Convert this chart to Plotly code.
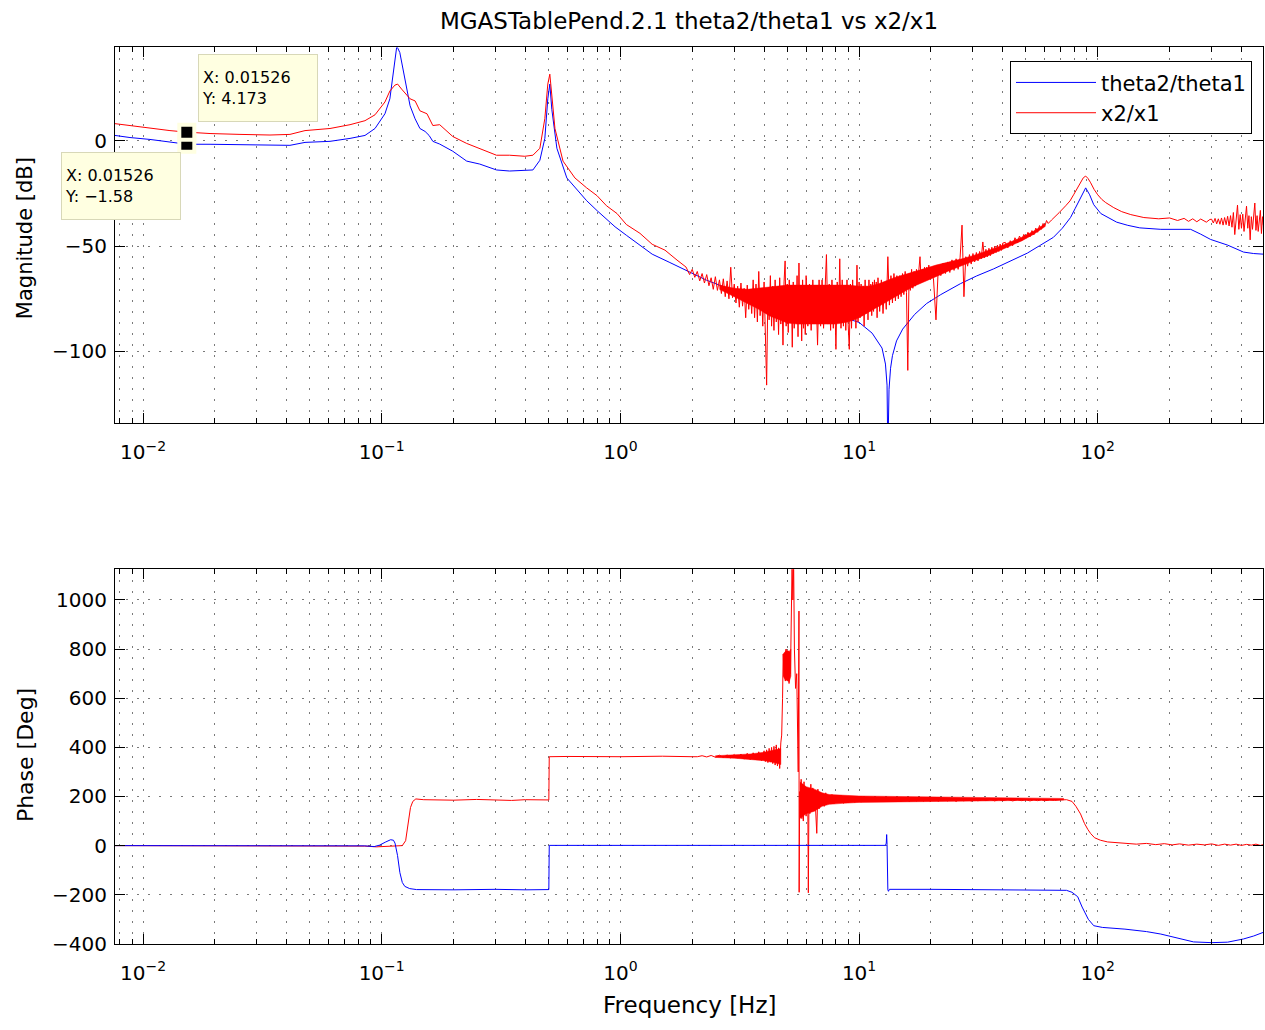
import math
import plotly.graph_objects as go

# ---------------- data ----------------
title_text = "MGASTablePend.2.1 theta2/theta1 vs x2/x1"
series_names = ["theta2/theta1", "x2/x1"]

decade_vals = [0.01, 0.1, 1, 10, 100]
decade_text = ["10<sup>−2</sup>", "10<sup>−1</sup>", "10<sup>0</sup>", "10<sup>1</sup>", "10<sup>2</sup>"]
mag_tick_vals = [-100, -50, 0]
phase_tick_vals = [-400, -200, 0, 200, 400, 600, 800, 1000]

# theta2/theta1 magnitude [dB]
theta_mag_freq = [0.00763, 0.00882, 0.0107, 0.01297, 0.01526, 0.01909, 0.02549, 0.03404, 0.04127, 0.04772,
                  0.06074, 0.07368, 0.08511, 0.09375, 0.1032, 0.1082, 0.1124, 0.1157, 0.1191, 0.1252,
                  0.1315, 0.138, 0.1446, 0.152, 0.158, 0.1638, 0.175, 0.1985, 0.2271, 0.2575,
                  0.3026, 0.3434, 0.39, 0.4301, 0.4599, 0.4825, 0.4965, 0.5063, 0.5161, 0.542,
                  0.5966, 0.65, 0.7223, 0.8, 0.8746, 0.95, 1.059, 1.2, 1.359, 1.6,
                  1.883, 2.3, 2.925, 3.4, 4.05, 4.7, 5.58, 6.5, 7.69, 8.8,
                  10.0, 11.34, 12.48, 12.9, 13.1, 13.2, 13.35, 13.55, 13.8, 14.35,
                  15.23, 17.1, 19.2, 22.0, 26.6, 31.0, 36.6, 43.0, 50.7, 57.0,
                  65.2, 71.0, 76.9, 80.5, 84.7, 89.0, 92.5, 96.2, 103.0, 110.0,
                  120.0, 133.6, 150.0, 183.7, 215.0, 245.0, 270.0, 297.0, 350.0, 408.0,
                  450.0, 494.0]
theta_mag_db = [2.6, 1.6, 0.7, -0.7, -1.58, -1.6, -1.9, -2.1, -2.1, -0.7,
                -0.2, 1.2, 2.6, 5.9, 12.9, 20.0, 34.0, 45.0, 42.0, 29.0,
                16.7, 10.5, 5.9, 4.5, 2.6, -0.2, -1.5, -4.9, -9.6, -11.0,
                -13.8, -14.3, -13.9, -13.8, -9.2, 1.2, 20.0, 27.0, 15.0, -3.5,
                -17.6, -22.5, -28.4, -33.2, -37.3, -40.8, -44.8, -49.4, -53.8, -57.6,
                -61.3, -66.2, -70.7, -73.2, -75.4, -76.7, -77.7, -79.8, -82.0, -84.2,
                -86.2, -91.3, -98.4, -106.0, -116.0, -150.0, -118.0, -108.0, -102.0, -95.0,
                -89.4, -82.4, -77.2, -73.0, -67.8, -64.2, -60.8, -57.0, -53.3, -49.8,
                -45.8, -41.5, -36.4, -32.0, -27.0, -22.3, -25.6, -30.3, -34.5, -36.4,
                -38.6, -40.1, -41.3, -42.0, -42.0, -42.0, -44.3, -46.8, -49.5, -52.8,
                -53.5, -53.8]

# x2/x1 magnitude [dB], low-frequency part
x_mag_freq_low = [0.00763, 0.00882, 0.0107, 0.01297, 0.01526, 0.01909, 0.02549, 0.03404, 0.04127, 0.04772,
                  0.06074, 0.07368, 0.08511, 0.09375, 0.1032, 0.1082, 0.1136, 0.1166, 0.1212, 0.1315,
                  0.138, 0.1446, 0.1548, 0.1638, 0.175, 0.1985, 0.2271, 0.2575, 0.3026, 0.3434,
                  0.398, 0.4301, 0.4599, 0.4825, 0.4965, 0.5063, 0.5161, 0.532, 0.575, 0.645,
                  0.7223, 0.798, 0.8746, 0.968, 1.059, 1.208, 1.359, 1.538, 1.727, 1.883]
x_mag_db_low = [8.2, 7.3, 5.9, 4.9, 4.173, 3.5, 3.1, 2.8, 3.1, 4.9,
                5.9, 7.7, 9.6, 12.4, 18.5, 23.7, 26.5, 27.0, 24.6, 20.0,
                19.0, 14.3, 12.9, 7.3, 7.7, 2.1, -1.2, -3.5, -6.8, -6.8,
                -7.3, -6.8, -3.5, 10.6, 27.0, 31.7, 20.0, 5.9, -9.6, -17.6,
                -22.3, -26.0, -30.8, -34.5, -39.7, -43.9, -49.1, -51.9, -56.6, -59.9]

# x2/x1 magnitude, noisy band 1.9 - 3.5 Hz
x_mag_freq_n1 = [1.90, 1.95, 2.00, 2.05, 2.10, 2.15, 2.20, 2.25, 2.30, 2.35, 2.40, 2.45, 2.50, 2.55, 2.60, 2.65,
                 2.70, 2.75, 2.80, 2.85, 2.90, 2.95, 3.00, 3.05, 3.10, 3.15, 3.20, 3.25, 3.30, 3.35, 3.40, 3.45, 3.50]
x_mag_db_n1 = [-60.8, -63.5, -61.0, -64.8, -62.0, -66.5, -63.0, -67.5, -63.5, -68.8, -65.0, -70.5, -64.5, -71.0,
               -66.0, -72.5, -65.5, -74.0, -66.5, -75.0, -60.0, -74.5, -68.0, -77.0, -69.0, -79.0, -67.5, -78.5,
               -70.0, -84.0, -68.5, -80.0, -70.5]

# noisy band 3.55 - 6.0 Hz
x_mag_freq_n2 = [3.55, 3.60, 3.65, 3.70, 3.75, 3.80, 3.85, 3.90, 3.95, 4.00,
                 4.05, 4.10, 4.15, 4.20, 4.25, 4.30, 4.35, 4.40, 4.45, 4.50,
                 4.55, 4.60, 4.65, 4.70, 4.75, 4.80, 4.85, 4.90, 4.95, 5.00,
                 5.05, 5.10, 5.15, 5.20, 5.25, 5.30, 5.35, 5.40, 5.45, 5.50,
                 5.55, 5.60, 5.65, 5.70, 5.75, 5.80, 5.85, 5.90, 5.95, 6.00]
x_mag_db_n2 = [-82, -66, -84, -68, -86, -62, -83, -70, -88, -67,
               -95, -116, -72, -85, -64, -88, -69, -90, -66, -86,
               -71, -92, -65, -87, -70, -97, -67, -57, -88, -68,
               -91, -66, -86, -70, -98, -67, -89, -71, -84, -64,
               -93, -58, -87, -70, -95, -66, -89, -69, -92, -64]

# noisy band 6.1 - 12 Hz
x_mag_freq_n3 = [6.1, 6.2, 6.3, 6.4, 6.5, 6.6, 6.7, 6.8, 6.9, 7.0,
                 7.1, 7.2, 7.3, 7.4, 7.5, 7.6, 7.7, 7.8, 7.9, 8.0,
                 8.1, 8.2, 8.3, 8.4, 8.5, 8.6, 8.7, 8.8, 8.9, 9.0,
                 9.1, 9.2, 9.3, 9.4, 9.5, 9.6, 9.7, 9.8, 9.9, 10.0,
                 10.1, 10.2, 10.3, 10.4, 10.5, 10.6, 10.7, 10.8, 10.9, 11.0,
                 11.1, 11.2, 11.3, 11.4, 11.5, 11.6, 11.7, 11.8, 11.9, 12.0]
x_mag_db_n3 = [-88, -68, -90, -66, -86, -70, -97, -66, -88, -66,
               -89, -69, -54, -87, -68, -90, -66, -89, -71, -99,
               -67, -86, -56, -89, -66, -88, -70, -90, -66, -87,
               -99, -68, -89, -66, -85, -69, -89, -59, -86, -67,
               -84, -68, -83, -69, -88, -66, -82, -69, -85, -66,
               -81, -68, -83, -67, -81, -66, -79, -67, -84, -65]

# noisy band 12.2 - 20 Hz
x_mag_freq_n4 = [12.2, 12.4, 12.6, 12.8, 13.0, 13.2, 13.4, 13.6, 13.8, 14.0,
                 14.2, 14.4, 14.6, 14.8, 15.0, 15.2, 15.4, 15.6, 15.8, 16.0,
                 16.2, 16.4, 16.6, 16.8, 17.0, 17.2, 17.4, 17.6, 17.8, 18.0,
                 18.2, 18.4, 18.6, 18.8, 19.0, 19.2, 19.4, 19.6, 19.8, 20.0]
x_mag_db_n4 = [-81, -66, -82, -67, -80, -55, -78, -64, -77, -63,
               -76, -64, -75, -64, -74, -63, -73, -62, -72, -109,
               -63, -71, -61, -70, -62, -69, -61, -68, -60, -55,
               -67, -61, -67, -60, -66, -60, -66, -59, -65, -60]

# noisy band 20.5 - 40 Hz
x_mag_freq_n5 = [20.5, 21.0, 21.5, 22.0, 22.5, 23.0, 23.5, 24.0, 24.5, 25.0,
                 25.5, 26.0, 26.5, 27.0, 27.5, 28.0, 28.5, 29.0, 29.5, 30.0,
                 30.5, 31.0, 31.5, 32.0, 32.5, 33.0, 33.5, 34.0, 34.5, 35.0,
                 35.5, 36.0, 36.5, 37.0, 37.5, 38.0, 38.5, 39.0, 39.5, 40.0]
x_mag_db_n5 = [-65.5, -85, -59, -64, -58, -63, -57.5, -62.5, -56.5, -61.5,
               -56, -61, -55.5, -40, -74, -55, -59.5, -54, -58.5, -53.5,
               -57.5, -53, -57, -52.5, -56, -48, -55.5, -51.5, -55, -51,
               -54.5, -50.5, -53.5, -50, -53, -49.5, -52.5, -49, -52, -48.5]

# noisy band 41 - 62 Hz
x_mag_freq_n6 = [41, 42, 43, 44, 45, 46, 47, 48, 49, 50, 51, 52, 53, 54, 55, 56, 57, 58, 59, 60, 61, 62]
x_mag_db_n6 = [-48.2, -50.8, -47.4, -49.8, -46.0, -48.4, -45.2, -47.4, -44.4, -46.2, -43.4,
               -45.6, -42.6, -44.6, -41.4, -43.4, -40.2, -42.0, -39.2, -40.6, -37.8, -39.2]

# resonance region 64 - 295 Hz
x_mag_freq_hi = [64, 65.2, 69, 73.4, 76.5, 79.2, 82, 84.7, 87, 89,
                 91, 93.4, 96.5, 100, 104, 108, 116.7, 126, 137.5, 156,
                 180, 200, 216, 230, 240, 250, 260, 270, 285, 295]
x_mag_db_hi = [-37.6, -36.6, -34, -30.8, -28.5, -25.6, -22.5, -19.9, -17.5, -16.7,
               -17.8, -19.9, -23, -25.6, -27.8, -29.3, -31.7, -33.6, -35, -36.4,
               -37, -36.6, -37.8, -36.8, -38.2, -37.0, -38.4, -37.1, -38.6, -37.3]

# noisy tail 300 - 494 Hz
x_mag_freq_n7 = [300, 305, 310, 315, 320, 325, 330, 335, 340, 345,
                 350, 355, 360, 365, 370, 375, 380, 385, 390, 395,
                 400, 405, 410, 415, 420, 425, 430, 435, 440, 445,
                 450, 455, 460, 465, 470, 475, 480, 485, 490, 494]
x_mag_db_n7 = [-37.2, -39.0, -36.8, -39.4, -37.0, -39.6, -36.6, -40.0, -36.4, -39.8,
               -35.8, -40.4, -35.5, -41.0, -34.0, -44.5, -35.2, -30.5, -42.0, -35.0,
               -41.5, -34.8, -43.0, -36.0, -31.0, -41.5, -35.5, -47.0, -36.0, -42.0,
               -34.5, -29.5, -42.5, -35.5, -43.0, -36.5, -33.0, -44.0, -36.0, -40.0]

# dense core of the x2/x1 magnitude noise (upper / lower edge)
x_mag_band_freq = [2.6, 3.0, 3.4, 3.8, 4.2, 4.6, 5.0, 5.5, 6.0, 7.0,
                   8.0, 9.0, 10.0, 11.0, 12.0, 13.0, 14.0, 15.5, 17.0, 19.0,
                   21.0, 24.0, 27.0, 30.0, 34.0, 38.0, 43.0, 48.0, 54.0, 60.0]
x_mag_band_upper = [-68.5, -70, -70.5, -70, -69.5, -69, -68.5, -68.5, -68.5, -68.5,
                    -68.5, -68.5, -69, -69, -68, -66.5, -65, -63.5, -62, -60.5,
                    -59, -57.5, -56, -54.5, -52.5, -50.5, -48, -45.8, -42.8, -39.5]
x_mag_band_lower = [-70.5, -74, -77, -80, -83, -85, -86.5, -87, -87, -87,
                    -87, -86, -84, -81.5, -79, -76.5, -74.5, -71.5, -69, -66.5,
                    -64.5, -61.5, -59.2, -57.2, -55, -52.8, -50, -47.5, -44.3, -40.8]

# theta2/theta1 phase [deg]
theta_phase_freq = [0.00763, 0.03, 0.06, 0.085, 0.093, 0.098, 0.104, 0.109, 0.112, 0.1137,
                    0.1165, 0.1192, 0.122, 0.125, 0.131, 0.14, 0.2, 0.3, 0.4, 0.5015,
                    0.5035, 1.0, 3.0, 6.0, 10.0, 12.9, 13.0, 13.05, 13.1, 13.15,
                    13.2, 13.28, 13.4, 20.0, 30.0, 45.0, 60.0, 74.0, 78.0, 82.4,
                    86.0, 89.0, 91.3, 96.2, 104.5, 130.0, 160.0, 183.7, 223.0, 252.0,
                    300.0, 350.0, 408.0, 450.0, 494.0]
theta_phase_deg = [0, 1, -1, -1, -4, 2, 15, 24, 22, 10,
                   -40, -110, -150, -166, -175, -179, -180, -178, -180, -179,
                   1, 1, 0, 1, 0, 1, 10, 45, 5, -120,
                   -180, -186, -178, -178, -179, -178, -179, -182, -190, -208,
                   -250, -280, -300, -326, -333, -340, -350, -360, -380, -392,
                   -395, -393, -380, -368, -353]

# x2/x1 phase [deg]
x_phase_freq_low = [0.00763, 0.03, 0.06, 0.085, 0.095, 0.105, 0.115, 0.122, 0.126, 0.129,
                    0.132, 0.135, 0.139, 0.15, 0.2, 0.25, 0.3, 0.35, 0.4, 0.45,
                    0.5015, 0.5035, 0.6, 1.0, 1.5, 2.0]
x_phase_deg_low = [0, -1, 1, -2, -5, -3, -2, 0, 20, 90,
                   155, 180, 190, 187, 185, 188, 186, 184, 187, 185,
                   186, 362, 363, 362, 364, 362]

x_phase_freq_mid = [2.1, 2.2, 2.3, 2.4, 2.5, 2.6, 2.7, 2.8, 2.9, 3.0,
                    3.1, 3.2, 3.3, 3.4, 3.5, 3.6, 3.7, 3.8, 3.9, 4.0,
                    4.05, 4.1, 4.15, 4.2, 4.25, 4.3, 4.35, 4.4, 4.45, 4.5,
                    4.55, 4.6, 4.65, 4.70, 4.74, 4.78, 4.81, 4.85, 4.88, 4.91,
                    4.94, 4.97, 5.00, 5.03, 5.06, 5.09, 5.12, 5.16, 5.20, 5.24,
                    5.28, 5.32, 5.36, 5.42, 5.48, 5.52, 5.56, 5.60, 5.61, 5.64,
                    5.68, 5.72, 5.76, 5.80, 5.84, 5.88, 5.92, 5.96, 6.00, 6.05,
                    6.10, 6.13, 6.17, 6.22, 6.28, 6.34, 6.40, 6.46, 6.52, 6.58,
                    6.65, 6.72, 6.80, 6.88, 6.96, 7.05, 7.15, 7.25, 7.35, 7.45,
                    7.55, 7.7, 7.85, 8.0, 8.2, 8.4, 8.6, 8.8, 9.0, 9.3,
                    9.6, 9.9, 10.2, 10.5, 10.9, 11.3, 11.7, 12.1]
x_phase_deg_mid = [362, 366, 361, 367, 360, 368, 359, 369, 357, 371,
                   356, 373, 352, 376, 350, 378, 352, 382, 346, 386,
                   342, 390, 338, 396, 340, 400, 334, 404, 328, 410,
                   324, 398, 314, 418, 450, 600, 780, 690, 760, 670,
                   800, 700, 780, 680, 790, 660, 760, 700, 900, 1150,
                   1000, 1150, 800, 640, 700, 500, 300, 955, -190, 220,
                   120, 270, 110, 250, 100, 260, 140, 240, 120, 230,
                   150, -192, 220, 130, 250, 140, 235, 150, 220, 160,
                   50, 230, 150, 215, 165, 210, 160, 215, 170, 205,
                   172, 208, 170, 200, 175, 205, 172, 200, 178, 198,
                   176, 197, 177, 196, 178, 195, 180, 194]

x_phase_freq_hi = [12.6, 13.2, 13.8, 14.4, 15.0, 15.6, 16.2, 16.8, 17.4, 18.0,
                   18.6, 19.2, 19.8, 20.5, 21.5, 22.5, 23.5, 24.5, 25.5, 26.5,
                   27.5, 28.5, 29.5, 30.5, 31.5, 32.5, 34, 35.5, 37, 38.5,
                   40, 42, 44, 46, 48, 50, 52, 54, 56, 58,
                   60, 63, 66, 70, 74, 78, 81, 84.7, 88, 91,
                   93.4, 97, 102.6, 110, 120, 133, 145, 160, 175, 190,
                   205, 220, 240, 260, 280, 300, 320, 340, 360, 380,
                   400, 420, 440, 460, 480, 494]
x_phase_deg_hi = [182, 195, 180, 194, 181, 195, 179, 193, 182, 194,
                  181, 193, 180, 192, 181, 192, 182, 191, 180, 190,
                  182, 191, 181, 189, 182, 190, 183, 189, 182, 188,
                  183, 188, 182, 187, 183, 187, 182, 186, 183, 186,
                  183, 185, 184, 186, 187, 180, 160, 129, 90, 65,
                  49, 32, 22, 15, 12, 10, 6, 9, 4, 8,
                  3, 7, 2, 6, 3, 7, 1, 6, 2, 6,
                  1, 5, 2, 6, 1, 4]

# dense cores of the x2/x1 phase noise (upper / lower edge)
x_phase_band1_freq = [2.5, 3.0, 3.5, 4.0, 4.4, 4.7]
x_phase_band1_upper = [366, 369, 373, 380, 388, 395]
x_phase_band1_lower = [359, 356, 352, 346, 338, 330]
x_phase_band2_freq = [4.81, 4.9, 5.0, 5.1, 5.18]
x_phase_band2_upper = [780, 790, 795, 790, 800]
x_phase_band2_lower = [690, 675, 672, 668, 690]
x_phase_band3_freq = [5.65, 6.0, 6.5, 7.0, 7.5, 8.5, 10.0, 12.0, 15.0, 20.0, 30.0, 45.0, 60.0, 72.0]
x_phase_band3_upper = [260, 240, 230, 215, 208, 205, 202, 201, 200, 199, 198, 196, 194, 192]
x_phase_band3_lower = [110, 130, 140, 160, 168, 172, 176, 178, 179, 180, 181, 183, 185, 186]

# data tips shown in the reference
tip_freq = 0.01526
tip_theta_db = -1.58
tip_x_db = 4.173

# ---------------- assemble ----------------
x_mag_freq = (x_mag_freq_low + x_mag_freq_n1 + x_mag_freq_n2 + x_mag_freq_n3 + x_mag_freq_n4
              + x_mag_freq_n5 + x_mag_freq_n6 + x_mag_freq_hi + x_mag_freq_n7)
x_mag_db = (x_mag_db_low + x_mag_db_n1 + x_mag_db_n2 + x_mag_db_n3 + x_mag_db_n4
            + x_mag_db_n5 + x_mag_db_n6 + x_mag_db_hi + x_mag_db_n7)
x_phase_freq = x_phase_freq_low + x_phase_freq_mid + x_phase_freq_hi
x_phase_deg = x_phase_deg_low + x_phase_deg_mid + x_phase_deg_hi

W, H = 1265, 1030
BLUE = "rgb(0,0,255)"
RED = "rgb(255,0,0)"
FONT = "DejaVu Sans"
GRID = "#7a7a7a"
GRID_DASH = "2px,9px"

minor_vals = [m * 10 ** e for e in range(-3, 3) for m in range(2, 10)]


def band_trace(freq, upper, lower, xa, ya):
    return go.Scatter(x=list(freq) + list(reversed(freq)), y=list(upper) + list(reversed(lower)),
                      mode="lines", fill="toself", fillcolor=RED, line=dict(color=RED, width=0.5),
                      xaxis=xa, yaxis=ya, showlegend=False, hoverinfo="skip")


fig = go.Figure()
fig.add_trace(go.Scatter(x=theta_mag_freq, y=theta_mag_db, mode="lines", name=series_names[0],
                         line=dict(color=BLUE, width=1), xaxis="x", yaxis="y"))
fig.add_trace(go.Scatter(x=x_mag_freq, y=x_mag_db, mode="lines", name=series_names[1],
                         line=dict(color=RED, width=1), xaxis="x", yaxis="y"))
fig.add_trace(band_trace(x_mag_band_freq, x_mag_band_upper, x_mag_band_lower, "x", "y"))
fig.add_trace(band_trace(x_phase_band1_freq, x_phase_band1_upper, x_phase_band1_lower, "x2", "y2"))
fig.add_trace(band_trace(x_phase_band2_freq, x_phase_band2_upper, x_phase_band2_lower, "x2", "y2"))
fig.add_trace(band_trace(x_phase_band3_freq, x_phase_band3_upper, x_phase_band3_lower, "x2", "y2"))
fig.add_trace(go.Scatter(x=x_phase_freq, y=x_phase_deg, mode="lines", name=series_names[1],
                         line=dict(color=RED, width=1), xaxis="x2", yaxis="y2", showlegend=False))
fig.add_trace(go.Scatter(x=theta_phase_freq, y=theta_phase_deg, mode="lines", name=series_names[0],
                         line=dict(color=BLUE, width=1), xaxis="x2", yaxis="y2", showlegend=False))
fig.add_trace(go.Scatter(x=[tip_freq, tip_freq], y=[tip_theta_db, tip_x_db], mode="markers",
                         marker=dict(symbol="square", size=15, color="black",
                                     line=dict(color="#FFFFE1", width=4)),
                         xaxis="x", yaxis="y", showlegend=False, hoverinfo="skip"))


def x_axis(anchor):
    return dict(type="log", range=[-2.1173, 2.6923], anchor=anchor, domain=[0, 1],
                tickmode="array", tickvals=decade_vals, ticktext=decade_text,
                ticks="inside", ticklen=10, tickwidth=1, tickcolor="black", ticklabelstandoff=11,
                showline=True, linecolor="black", linewidth=1, mirror="ticks",
                showgrid=True, gridcolor=GRID, gridwidth=1, griddash=GRID_DASH, zeroline=False,
                minor=dict(tickmode="array", tickvals=minor_vals, ticks="inside", ticklen=5,
                           tickcolor="black", showgrid=True, gridcolor=GRID, griddash=GRID_DASH),
                tickfont=dict(family=FONT, size=20, color="black"))


def y_axis(anchor, top_px, bottom_px, rng, vals):
    return dict(anchor=anchor, domain=[1 - bottom_px / H, 1 - top_px / H], range=rng,
                tickmode="array", tickvals=vals,
                ticks="inside", ticklen=10, tickwidth=1, tickcolor="black", ticklabelstandoff=3,
                showline=True, linecolor="black", linewidth=1, mirror="ticks",
                showgrid=True, gridcolor=GRID, gridwidth=1, griddash=GRID_DASH, zeroline=False,
                tickfont=dict(family=FONT, size=20, color="black"))


tip_box = dict(xref="x", yref="y", x=math.log10(tip_freq), showarrow=False, align="left",
               bgcolor="#FFFFE1", bordercolor="#D8D8B8", borderwidth=1, borderpad=3,
               width=112, height=60, font=dict(family=FONT, size=16, color="black"))

fig.update_layout(
    width=W, height=H, autosize=False,
    margin=dict(l=115, r=2, t=0, b=0),
    paper_bgcolor="white", plot_bgcolor="white",
    font=dict(family=FONT, color="black"),
    title=dict(text=title_text, x=0.5, xref="paper", xanchor="center",
               y=1 - 21 / H, yref="container", yanchor="middle",
               font=dict(family=FONT, size=23, color="black")),
    xaxis=x_axis("y"),
    yaxis=y_axis("x", 48, 428, [-134.0, 44.4], mag_tick_vals),
    xaxis2=x_axis("y2"),
    yaxis2=y_axis("x2", 576, 955, [-400, 1125], phase_tick_vals),
    legend=dict(x=(1252 - 115) / 1148, y=1 - 62 / H, xanchor="right", yanchor="top",
                bgcolor="white", bordercolor="black", borderwidth=1, itemwidth=80,
                font=dict(family=FONT, size=21, color="black")),
    annotations=[
        dict(tip_box, y=tip_x_db, xshift=70.7, yshift=44.6,
             text=f"X: {tip_freq}<br>Y: {tip_x_db}"),
        dict(tip_box, y=tip_theta_db, xshift=-65.8, yshift=-41.6,
             text=f"X: {tip_freq}<br>Y: {str(tip_theta_db).replace('-', '−')}"),
        dict(text="Magnitude [dB]", xref="paper", yref="paper", x=-90 / 1148, y=1 - 241 / H,
             xanchor="center", yanchor="middle", textangle=-90, showarrow=False,
             font=dict(family=FONT, size=21, color="black")),
        dict(text="Phase [Deg]", xref="paper", yref="paper", x=-90 / 1148, y=1 - 764 / H,
             xanchor="center", yanchor="middle", textangle=-90, showarrow=False,
             font=dict(family=FONT, size=22, color="black")),
        dict(text="Frequency [Hz]", xref="paper", yref="paper", x=0.5, y=1 - 1017 / H,
             xanchor="center", yanchor="middle", showarrow=False,
             font=dict(family=FONT, size=23, color="black")),
    ],
)

fig.write_html("out.html", config={"responsive": False})
